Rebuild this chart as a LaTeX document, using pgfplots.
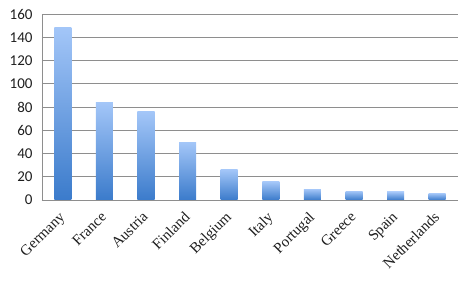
\documentclass[border=0pt]{standalone}
\usepackage{pgfplots}
\pgfplotsset{compat=1.18}
\usepackage{fontspec}
\setmainfont{Carlito}
\newfontfamily\seriffont{Liberation Serif}
\definecolor{barbot}{HTML}{3B7BCB}
\definecolor{bartop}{HTML}{A3C6F8}
\definecolor{gridc}{HTML}{8E8E8E}
\definecolor{txt}{HTML}{1E1E1E}
\begin{document}
\begin{tikzpicture}
\useasboundingbox (-42pt,-86pt) rectangle (424pt,200pt);
\begin{axis}[
  scale only axis,
  width=416pt, height=186pt,
  xmin=-0.5, xmax=9.5,
  ymin=0, ymax=160,
  ytick={0,20,...,160},
  xtick={0,...,9},
  xticklabels={Germany,France,Austria,Finland,Belgium,Italy,Portugal,Greece,Spain,Netherlands},
  axis lines=left,
  axis line style={-, draw=gridc},
  ymajorgrids,
  grid style={draw=gridc, line width=0.6pt},
  major tick length=0pt,
  tick label style={text=txt},
  yticklabel style={font=\fontsize{15}{17}\selectfont, xshift=-6pt},
  /pgf/number format/assume math mode=true,
  xticklabel style={font=\seriffont\fontsize{15}{17}\selectfont, rotate=45, anchor=north east, inner sep=0pt, xshift=-10.5pt, yshift=-4.3pt},
  mybar/.style={ybar, bar width=17pt, bar shift=0pt, draw=none, mark=none, shading=axis, top color=bartop, bottom color=barbot},
]
\addplot[mybar] coordinates {(0,148.5)};
\addplot[mybar] coordinates {(1,83.7)};
\addplot[mybar] coordinates {(2,75.7)};
\addplot[mybar] coordinates {(3,49.5)};
\addplot[mybar] coordinates {(4,26)};
\addplot[mybar] coordinates {(5,15.5)};
\addplot[mybar] coordinates {(6,9.3)};
\addplot[mybar] coordinates {(7,7.7)};
\addplot[mybar] coordinates {(8,6.9)};
\addplot[mybar] coordinates {(9,5.8)};
\end{axis}
\end{tikzpicture}
\end{document}
